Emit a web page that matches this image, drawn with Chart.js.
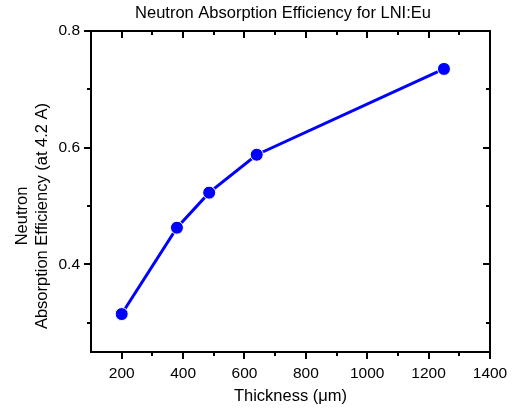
<!DOCTYPE html>
<html>
<head>
<meta charset="utf-8">
<script src="https://cdn.jsdelivr.net/npm/chart.js@4.4.1/dist/chart.umd.min.js"></script>
<style>
  html, body { margin: 0; padding: 0; background: #fff; }
  #wrap { width: 513px; height: 409px; }
</style>
</head>
<body>
<div id="wrap"><canvas id="chart"></canvas></div>
<script>
// data
const thickness = [200, 380, 485, 640, 1250];
const efficiency = [0.315, 0.463, 0.523, 0.588, 0.735];

const xMajorTicks = [200, 400, 600, 800, 1000, 1200, 1400];
const xMinorTicks = [300, 500, 700, 900, 1100, 1300];
const yMajorTicks = [0.4, 0.6, 0.8];
const yMinorTicks = [0.3, 0.5, 0.7];

const chartTitle = 'Neutron Absorption Efficiency for LNI:Eu';
const yTitle = ['Neutron', 'Absorption Efficiency (at 4.2 A)'];
const xTitle = 'Thickness (\u03bcm)';

const FONT = 'Arial, "Liberation Sans", sans-serif';

// frame + ticks on all four sides (outward left/bottom, inward top/right)
const frameTicks = {
  id: 'frameTicks',
  afterDatasetsDraw(chart) {
    const { ctx, chartArea: a, scales: { x, y } } = chart;
    ctx.save();
    ctx.strokeStyle = '#000';
    ctx.lineWidth = 2;

    const tick = (list, len) => {
      list.forEach(v => {
        const px = Math.round(x.getPixelForValue(v));
        ctx.beginPath();
        ctx.moveTo(px, a.bottom); ctx.lineTo(px, a.bottom + len);
        ctx.moveTo(px, a.top); ctx.lineTo(px, a.top + len);
        ctx.stroke();
      });
    };
    const ytick = (list, len) => {
      list.forEach(v => {
        const py = Math.round(y.getPixelForValue(v));
        ctx.beginPath();
        ctx.moveTo(a.left, py); ctx.lineTo(a.left - len, py);
        ctx.moveTo(a.right, py); ctx.lineTo(a.right - len, py);
        ctx.stroke();
      });
    };
    tick(xMajorTicks, 7);
    tick(xMinorTicks, 4);
    ytick(yMajorTicks, 7);
    ytick(yMinorTicks, 4);

    ctx.strokeRect(a.left, a.top, a.right - a.left, a.bottom - a.top);

    // chart title
    ctx.fillStyle = '#000';
    ctx.textAlign = 'center';
    ctx.textBaseline = 'middle';
    ctx.font = '16.5px ' + FONT;
    ctx.fillText(chartTitle, 283, 13);

    // y axis title, two lines, rotated
    ctx.font = '16.5px ' + FONT;
    ctx.translate(0, 216);
    ctx.rotate(-Math.PI / 2);
    ctx.fillText(yTitle[0], 0, 22);
    ctx.fillText(yTitle[1], 0, 42);
    ctx.restore();
  }
};

new Chart(document.getElementById('chart'), {
  type: 'scatter',
  data: {
    datasets: [{
      data: thickness.map((t, i) => ({ x: t, y: efficiency[i] })),
      showLine: true,
      borderColor: '#0000ff',
      borderWidth: 3,
      backgroundColor: '#0000ff',
      pointBackgroundColor: '#0000ff',
      pointBorderColor: '#ffffff',
      pointBorderWidth: 1,
      pointRadius: 6.5,
      pointHoverRadius: 6.5
    }]
  },
  options: {
    responsive: true,
    maintainAspectRatio: false,
    animation: false,
    layout: { padding: { top: 31, right: 23, left: 0, bottom: 0 } },
    plugins: {
      legend: { display: false },
      title: { display: false },
      tooltip: { enabled: false }
    },
    scales: {
      x: {
        type: 'linear',
        min: 100,
        max: 1400,
        afterFit: s => { s.height = 57; s.paddingLeft = 0; s.paddingRight = 0; },
        afterBuildTicks: s => { s.ticks = xMajorTicks.map(v => ({ value: v })); },
        grid: { display: false, drawTicks: false },
        border: { display: false },
        ticks: {
          padding: 12,
          color: '#000',
          font: { family: FONT, size: 15.5 },
          maxRotation: 0,
          callback: v => String(v)
        },
        title: {
          display: true,
          text: xTitle,
          color: '#000',
          font: { family: FONT, size: 16.5 },
          padding: { top: 0, bottom: 3 }
        }
      },
      y: {
        type: 'linear',
        min: 0.25,
        max: 0.8,
        afterFit: s => { s.width = 91; s.paddingTop = 0; s.paddingBottom = 0; },
        afterBuildTicks: s => { s.ticks = yMajorTicks.map(v => ({ value: v })); },
        grid: { display: false, drawTicks: false },
        border: { display: false },
        ticks: {
          padding: 11,
          color: '#000',
          font: { family: FONT, size: 15.5 },
          callback: v => v.toFixed(1)
        }
      }
    }
  },
  plugins: [frameTicks]
});
</script>
</body>
</html>
